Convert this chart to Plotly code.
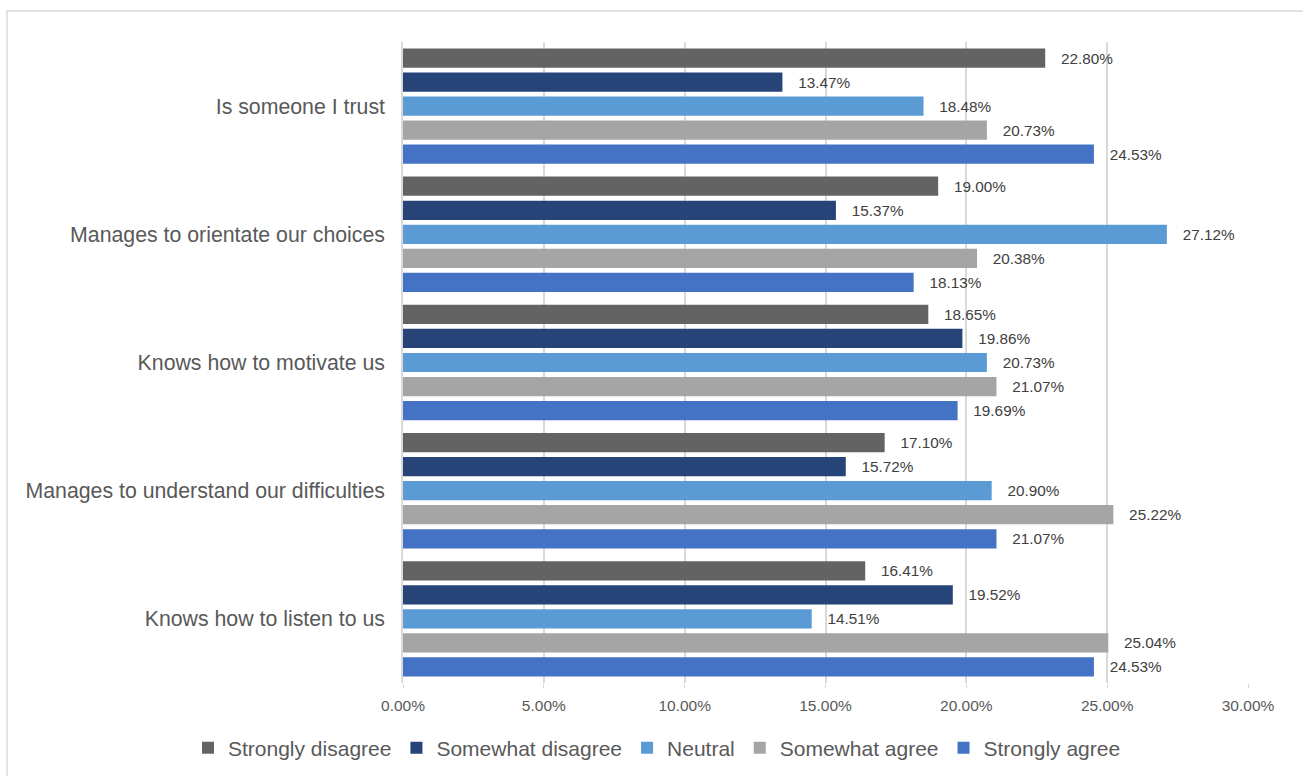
import plotly.graph_objects as go

categories = ["Is someone I trust", "Manages to orientate our choices", "Knows how to motivate us",
              "Manages to understand our difficulties", "Knows how to listen to us"]
series_names = ["Strongly disagree", "Somewhat disagree", "Neutral", "Somewhat agree", "Strongly agree"]
strongly_disagree = [0.2280, 0.1900, 0.1865, 0.1710, 0.1641]
somewhat_disagree = [0.1347, 0.1537, 0.1986, 0.1572, 0.1952]
neutral = [0.1848, 0.2712, 0.2073, 0.2090, 0.1451]
somewhat_agree = [0.2073, 0.2038, 0.2107, 0.2522, 0.2504]
strongly_agree = [0.2453, 0.1813, 0.1969, 0.2107, 0.2453]
colors = ["#636363", "#264478", "#5B9BD5", "#A5A5A5", "#4472C4"]
tick_vals = [0, 0.05, 0.10, 0.15, 0.20, 0.25, 0.30]
tick_text = ["0.00%", "5.00%", "10.00%", "15.00%", "20.00%", "25.00%", "30.00%"]

all_series = [strongly_disagree, somewhat_disagree, neutral, somewhat_agree, strongly_agree]

FONT = "Liberation Sans, Arial, sans-serif"

fig = go.Figure()
for name, vals, col in zip(series_names, all_series, colors):
    fig.add_trace(go.Bar(
        y=categories, x=vals, name=name, orientation="h",
        marker=dict(color=col, line=dict(width=0)),
        text=["\u00a0\u00a0\u00a0" + f"{v*100:.2f}%" for v in vals],
        textposition="outside", cliponaxis=False,
        textfont=dict(family=FONT, size=15.3, color="#404040"),
        hoverinfo="x+name",
    ))

W, H = 1303, 776
L, R, T, B = 403, 55, 42, 93
pw, ph = W - L - R, H - T - B

fig.update_layout(
    width=W, height=H,
    margin=dict(l=L, r=R, t=T, b=B, autoexpand=False),
    barmode="group", bargap=0.0625, bargroupgap=0.2,
    plot_bgcolor="white", paper_bgcolor="white",
    font=dict(family=FONT, color="#595959"),
    showlegend=True,
    legend=dict(orientation="h",
                x=(188 - L) / pw, xanchor="left",
                y=-(748 - (T + ph)) / ph, yanchor="middle",
                font=dict(size=21, color="#595959"), traceorder="normal",
                itemwidth=30, tracegroupgap=0),
    xaxis=dict(range=[0, 0.30], tickvals=tick_vals, ticktext=tick_text,
               showgrid=True, gridcolor="#D9D9D9", gridwidth=1.5,
               zeroline=False, showline=False,
               ticks="outside", ticklen=4, tickcolor="#D9D9D9",
               ticklabelstandoff=4,
               tickfont=dict(size=15.5, color="#595959")),
    yaxis=dict(autorange="reversed", showgrid=False, zeroline=False,
               showline=True, linecolor="#D9D9D9", linewidth=1.5,
               ticks="", ticklabelstandoff=12,
               tickfont=dict(size=21.3, color="#595959")),
    shapes=[dict(type="rect", xref="paper", yref="paper",
                 x0=(7 - L) / pw, x1=(W + 5 - L) / pw,
                 y0=(T + ph - (H + 5)) / ph, y1=(T + ph - 11) / ph,
                 line=dict(color="#D9D9D9", width=1.5), fillcolor="rgba(0,0,0,0)", layer="below")],
)

fig.write_html("out.html")
